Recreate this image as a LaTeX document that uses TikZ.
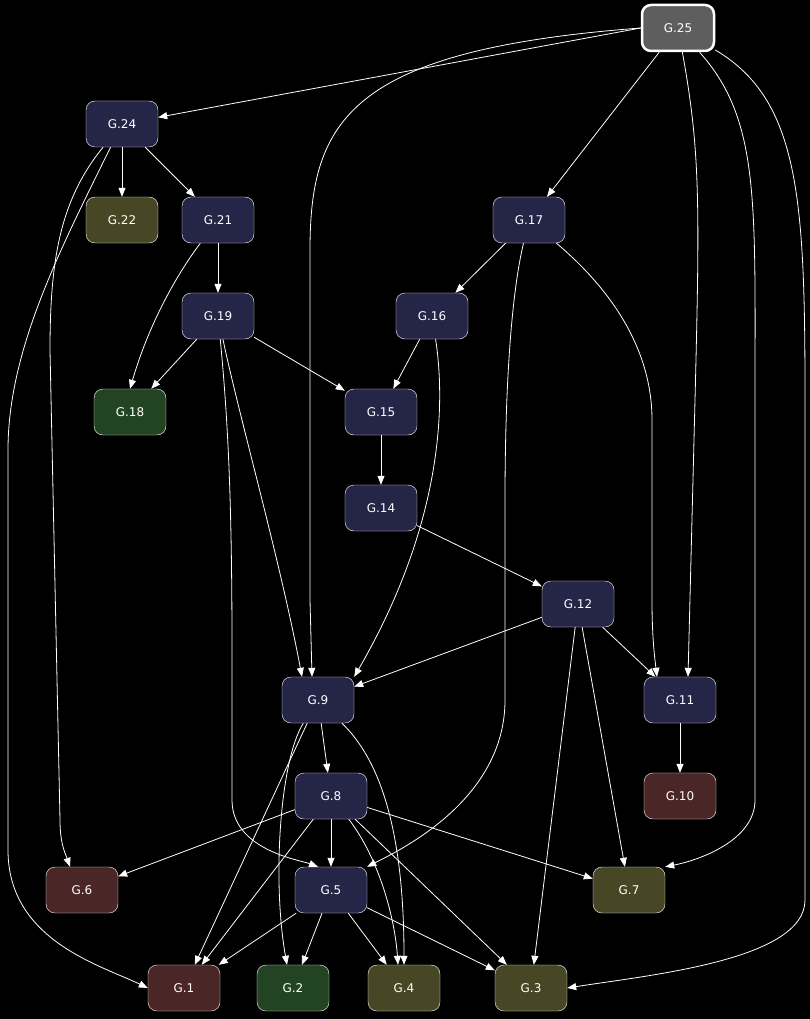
\documentclass[tikz,border=0pt]{standalone}
\usepackage{fontspec}
\setmainfont{DejaVu Sans}
\usetikzlibrary{arrows.meta}
\definecolor{nv}{HTML}{252547}
\definecolor{ol}{HTML}{474726}
\definecolor{gr}{HTML}{224422}
\definecolor{mr}{HTML}{4A2626}
\definecolor{gy}{HTML}{5E5E5E}
\begin{document}
\begin{tikzpicture}[x=1pt,y=-1pt,
 nd/.style={draw=white,rounded corners=9pt,minimum width=72pt,minimum height=46pt,text=white,font=\fontsize{12}{14}\selectfont,inner sep=0pt},
 e/.style={draw=white,line width=0.8pt,-{Triangle[width=7pt,length=9pt]}}]
\fill[black] (0,0) rectangle (810,1019);
\useasboundingbox (0,0) rectangle (810,1019);
\node[nd,fill=gy,line width=2.5pt] (g25) at (678,28) {G.25};
\node[nd,fill=nv] (g24) at (122,124) {G.24};
\node[nd,fill=ol] (g22) at (122,220) {G.22};
\node[nd,fill=nv] (g21) at (218,220) {G.21};
\node[nd,fill=nv] (g17) at (529,220) {G.17};
\node[nd,fill=nv] (g19) at (218,316) {G.19};
\node[nd,fill=nv] (g16) at (432,316) {G.16};
\node[nd,fill=gr] (g18) at (130,412) {G.18};
\node[nd,fill=nv] (g15) at (381,412) {G.15};
\node[nd,fill=nv] (g14) at (381,508) {G.14};
\node[nd,fill=nv] (g12) at (578,604) {G.12};
\node[nd,fill=nv] (g9) at (318,700) {G.9};
\node[nd,fill=nv] (g11) at (680,700) {G.11};
\node[nd,fill=nv] (g8) at (331,796) {G.8};
\node[nd,fill=mr] (g10) at (680,796) {G.10};
\node[nd,fill=mr] (g6) at (82,890) {G.6};
\node[nd,fill=nv] (g5) at (331,890) {G.5};
\node[nd,fill=ol] (g7) at (629,890) {G.7};
\node[nd,fill=mr] (g1) at (184,988) {G.1};
\node[nd,fill=gr] (g2) at (293,988) {G.2};
\node[nd,fill=ol] (g4) at (404,988) {G.4};
\node[nd,fill=ol] (g3) at (531,988) {G.3};
\path[e] (g25.west) -- (g24);
\path[e] (g25.west) .. controls (350,50) and (310,120) .. (310,250) -- (310,600) -- (g9.north -| 312,0);
\path[e] (g25) -- (g17);
\path[e] (g25) .. controls (700,150) and (700,200) .. (695,400) -- (g11.north -| 688,0);
\path[e] (g25) .. controls (760,120) and (755,200) .. (755,400) -- (755,800) .. controls (755,840) and (700,860) .. (g7.north east);
\path[e] (g25) .. controls (800,100) and (805,200) .. (805,400) -- (805,900) .. controls (805,960) and (650,975) .. (g3.east);
\path[e] (g24) -- (g22);
\path[e] (g24) -- (g21);
\path[e] (g24) .. controls (60,200) and (50,260) .. (50,350) -- (60,820) .. controls (60,845) and (66,855) .. (g6.north -| 70,0);
\path[e] (g24) .. controls (60,250) and (8,350) .. (8,450) -- (8,850) .. controls (8,940) and (100,965) .. (g1.west);
\path[e] (g21) -- (g19);
\path[e] (g21) .. controls (180,270) and (150,320) .. (g18.north);
\path[e] (g19) -- (g18);
\path[e] (g19) -- (g15);
\path[e] (g19) .. controls (240,420) and (280,560) .. (g9.north -| 302,0);
\path[e] (g19) .. controls (228,420) and (232,500) .. (232,650) -- (232,800) .. controls (232,850) and (300,860) .. (g5.north -| 318,0);
\path[e] (g17) -- (g16);
\path[e] (g17) .. controls (600,280) and (652,340) .. (652,420) -- (652,600) .. controls (652,640) and (655,660) .. (g11.north -| 657,0);
\path[e] (g17) .. controls (510,300) and (505,400) .. (505,500) -- (505,700) .. controls (505,800) and (400,850) .. (g5.north east);
\path[e] (g16) -- (g15);
\path[e] (g16) .. controls (445,400) and (445,520) .. (g9.north east);
\path[e] (g15) -- (g14);
\path[e] (g14) -- (g12);
\path[e] (g12) -- (g9);
\path[e] (g12) -- (g11);
\path[e] (g12) -- (g7);
\path[e] (g12) -- (g3);
\path[e] (g9) -- (g8);
\path[e] (g9) -- (g1);
\path[e] (g9) .. controls (280,760) and (272,880) .. (g2.north -| 287,0);
\path[e] (g9) .. controls (380,760) and (404,830) .. (g4.north -| 404,0);
\path[e] (g11) -- (g10);
\path[e] (g8) -- (g6);
\path[e] (g8) -- (g5);
\path[e] (g8) -- (g1);
\path[e] (g8) -- (g7);
\path[e] (g8) -- (g3);
\path[e] (g8) .. controls (380,860) and (395,920) .. (g4.north -| 398,0);
\path[e] (g5) -- (g1);
\path[e] (g5) -- (g2);
\path[e] (g5) -- (g4);
\path[e] (g5) -- (g3);
\end{tikzpicture}
\end{document}
